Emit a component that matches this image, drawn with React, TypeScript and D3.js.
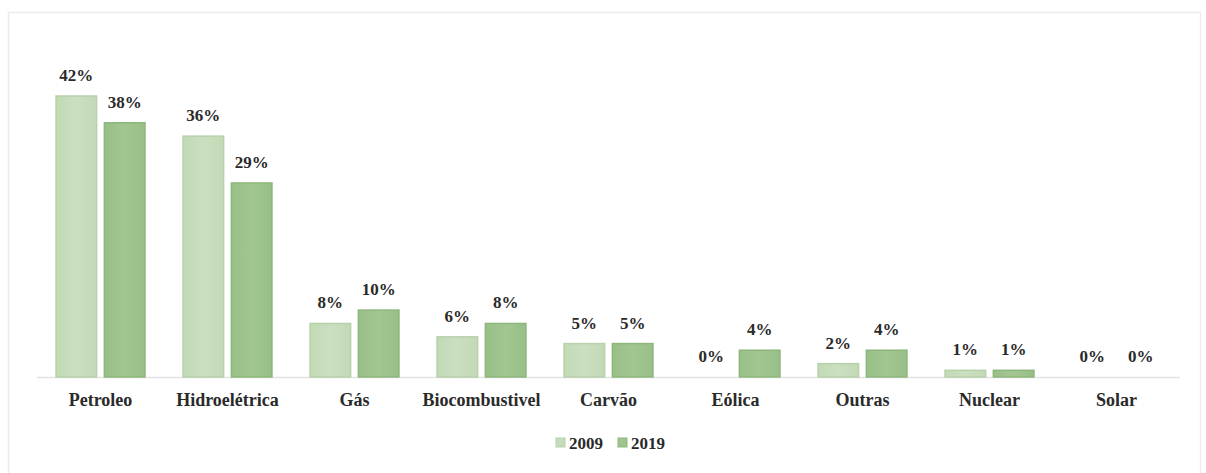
import React from "react";
import * as d3 from "d3";

const categories = ["Petroleo", "Hidroelétrica", "Gás", "Biocombustivel", "Carvão", "Eólica", "Outras", "Nuclear", "Solar"];
const values2009 = [42, 36, 8, 6, 5, 0, 2, 1, 0];
const values2019 = [38, 29, 10, 8, 5, 4, 4, 1, 0];
const seriesNames = ["2009", "2019"];

const W = 1206;
const H = 473;
const FONT = "'Liberation Serif', 'Times New Roman', serif";

export default function App() {
  const x0 = d3.scaleBand<string>().domain(categories).range([37, 1180]).paddingInner(0.3).paddingOuter(0.15);
  const x1 = d3.scaleBand<string>().domain(seriesNames).range([0, x0.bandwidth()]).paddingInner(0.16);
  const y = d3.scaleLinear().domain([0, 42]).range([377, 96]);
  const fills = ["#c7dcbc", "#9fc48e"];
  const strokes = ["#b8d1ab", "#8db67c"];
  const series = [values2009, values2019];
  const legendX = [556, 618];

  return (
    <svg width={W} height={H} style={{ position: "absolute", left: 0, top: 0, background: "#fff" }}>
      <defs>
        <linearGradient id="g0" x1="0" x2="1" y1="0" y2="0">
          <stop offset="0" stopColor="#c2dab5" />
          <stop offset="0.5" stopColor="#cadfc0" />
          <stop offset="1" stopColor="#c2d9b6" />
        </linearGradient>
        <linearGradient id="g1" x1="0" x2="1" y1="0" y2="0">
          <stop offset="0" stopColor="#98c086" />
          <stop offset="0.5" stopColor="#a3c692" />
          <stop offset="1" stopColor="#98bf87" />
        </linearGradient>
      </defs>
      <rect x={8.5} y={12.5} width={1192} height={470} fill="none" stroke="#ececec" strokeWidth={1.5} />
      <line x1={37} x2={1180} y1={y(0) + 0.5} y2={y(0) + 0.5} stroke="#e3e3e3" strokeWidth={1.5} />
      {categories.map((c, i) => (
        <g key={c}>
          {series.map((vals, s) => {
            const bx = (x0(c) ?? 0) + (x1(seriesNames[s]) ?? 0);
            const bw = x1.bandwidth();
            const v = vals[i];
            return (
              <g key={s}>
                {v > 0 && (
                  <rect
                    x={bx}
                    y={y(v)}
                    width={bw}
                    height={y(0) - y(v)}
                    fill={`url(#g${s})`}
                    stroke={strokes[s]}
                    strokeWidth={1.5}
                  />
                )}
                <text
                  x={bx + bw / 2}
                  y={y(v) - 15}
                  textAnchor="middle"
                  fontFamily={FONT}
                  fontWeight="bold"
                  fontSize={17}
                  fill="#2a2a2a"
                >
                  {v}%
                </text>
              </g>
            );
          })}
          <text
            x={(x0(c) ?? 0) + x0.bandwidth() / 2}
            y={406}
            textAnchor="middle"
            fontFamily={FONT}
            fontWeight="bold"
            fontSize={18}
            fill="#2a2a2a"
          >
            {c}
          </text>
        </g>
      ))}
      <g transform="translate(0,449)">
        {seriesNames.map((n, s) => (
          <g key={n} transform={`translate(${legendX[s]},0)`}>
            <rect x={0} y={-11} width={9} height={9} fill={fills[s]} stroke={strokes[s]} />
            <text x={13} y={0} fontFamily={FONT} fontWeight="bold" fontSize={17} fill="#2a2a2a">
              {n}
            </text>
          </g>
        ))}
      </g>
    </svg>
  );
}
